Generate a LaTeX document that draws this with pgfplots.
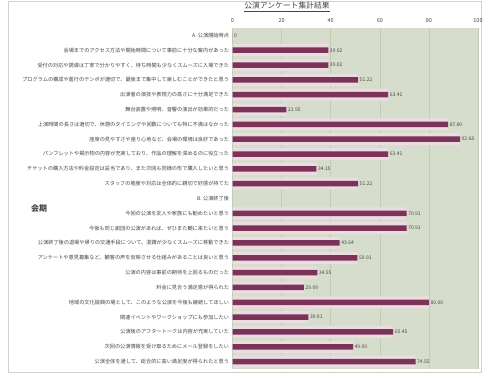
\documentclass[border=0pt]{standalone}
\usepackage{fontspec}
\setmainfont{Noto Sans CJK JP}
\usepackage{pgfplots}
\usepackage{pgfplotstable}
\pgfplotsset{compat=1.18}
\definecolor{bgc}{HTML}{D7DDCC}
\definecolor{barc}{HTML}{7B3358}
\definecolor{halo}{HTML}{EBDCE2}
\definecolor{gridc}{HTML}{C3CAB6}
\definecolor{txt}{HTML}{444444}
\pgfplotstableread{
y x lab
0 0 0
-1 39.02 39.02
-2 39.02 39.02
-3 51.22 51.22
-4 63.41 63.41
-5 21.95 21.95
-6 87.80 87.80
-7 92.68 92.68
-8 63.41 63.41
-9 34.15 34.15
-10 51.22 51.22
-12 70.91 70.91
-13 70.91 70.91
-14 43.64 43.64
-15 50.91 50.91
-16 34.55 34.55
-17 29.09 29.09
-18 80.00 80.00
-19 30.91 30.91
-20 65.45 65.45
-21 49.09 49.09
-22 74.55 74.55
}\datatab
\begin{document}
\begin{tikzpicture}
\useasboundingbox (0,0) rectangle (486bp,374bp);
\draw[black!18, line width=0.6bp] (8bp,2bp) rectangle (481bp,373bp);
\begin{axis}[
  at={(232.5bp,5bp)}, anchor=south west,
  scale only axis, width=245.5bp, height=341bp,
  xmin=0, xmax=100, ymin=-22.5, ymax=0.5,
  axis background/.style={fill=bgc},
  axis line style={draw=none},
  xmajorgrids, grid style={gridc, line width=0.5bp},
  xtick={0,20,...,100}, xticklabel pos=upper,
  xticklabel style={font=\fontsize{5.5}{6}\selectfont, text=txt, yshift=2bp},
  ytick={0,-1,...,-22},
  yticklabels={
    A. 公演開始時点,
    会場までのアクセス方法や開始時間について事前に十分な案内があった,
    受付の対応や誘導は丁寧で分かりやすく、待ち時間も少なくスムーズに入場できた,
    プログラムの構成や進行のテンポが適切で、最後まで集中して楽しむことができたと思う,
    出演者の演技や表現力の高さに十分満足できた,
    舞台装置や照明、音響の演出が効果的だった,
    上演時間の長さは適切で、休憩のタイミングや回数についても特に不満はなかった,
    座席の見やすさや座り心地など、会場の環境は良好であった,
    パンフレットや掲示物の内容が充実しており、作品の理解を深めるのに役立った,
    チケットの購入方法や料金設定は妥当であり、また次回も同様の形で購入したいと思う,
    スタッフの態度や対応は全体的に親切で好感が持てた,
    B. 公演終了後,
    今回の公演を友人や家族にも勧めたいと思う,
    今後も同じ劇団の公演があれば、ぜひまた観に来たいと思う,
    公演終了後の退場や帰りの交通手段について、混雑が少なくスムーズに移動できた,
    アンケートや意見募集など、観客の声を反映させる仕組みがあることは良いと思う,
    公演の内容は事前の期待を上回るものだった,
    料金に見合う満足感が得られた,
    地域の文化振興の場として、このような公演を今後も継続してほしい,
    関連イベントやワークショップにも参加したい,
    公演後のアフタートークは内容が充実していた,
    次回の公演情報を受け取るためにメール登録をしたい,
    公演全体を通して、総合的に高い満足度が得られたと思う},
  yticklabel style={font=\fontsize{5.2}{6}\selectfont, text=txt},
  major tick length=0pt,
  /pgf/number format/assume math mode=true,
  clip=false,
]
\addplot[xbar, bar shift=0pt, bar width=12bp, fill=halo, draw=none] table[x=x,y=y] {\datatab};
\addplot[xbar, bar shift=0pt, bar width=5.5bp, fill=barc, draw=none,
  nodes near coords, point meta=explicit symbolic,
  every node near coord/.append style={font=\fontsize{5}{5}\selectfont, text=txt, anchor=west, inner sep=1.5bp}]
  table[x=x,y=y,meta=lab] {\datatab};
\end{axis}
\node[font=\fontsize{7.8}{8}\selectfont, text=txt] at (287bp,367bp) {\underline{公演アンケート集計結果}};
\node[font=\fontsize{8}{8}\selectfont\bfseries, text=txt] at (39bp,166bp) {会期};
\end{tikzpicture}
\end{document}
